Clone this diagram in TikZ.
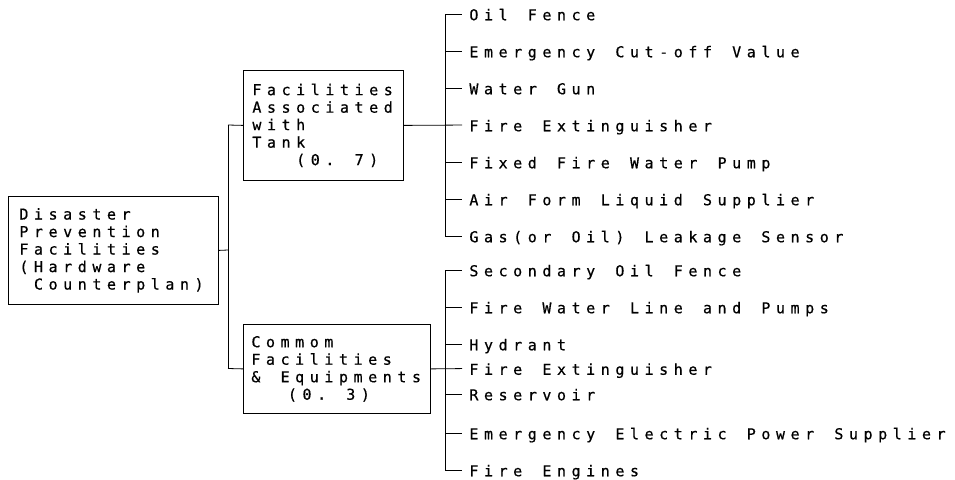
\documentclass[tikz,border=0pt]{standalone}
\usepackage{fontspec}
\newfontfamily\twfont{DejaVu Sans Mono}[FakeBold=0.6]
\newcommand\twsize{\twfont\fontsize{15}{17.5}\selectfont}
\ExplSyntaxOn
\NewDocumentCommand\tw{m}{\leavevmode\str_map_inline:nn {#1} {\hbox_to_wd:nn {14.6pt} {##1 \hfil}}}
\ExplSyntaxOff
\newcommand\mysp[1]{\leavevmode\hspace*{#1\dimexpr 14.6pt\relax}}
\begin{document}
\begin{tikzpicture}[x=1pt,y=-1pt,line width=0.8pt,
  txt/.style={font=\twsize},
  item/.style={txt,anchor=west,inner sep=0pt,text height=12.5pt,text depth=0pt},
  boxnode/.style={txt,draw,anchor=north west,inner ysep=0pt,align=left}
]
\useasboundingbox (0,0) rectangle (955,479);

% boxes
\node[boxnode,inner xsep=11pt,text width=188pt,minimum height=108pt] (L) at (8,196)
  {\tw{Disaster}\\\tw{Prevention}\\\tw{Facilities}\\\tw{(Hardware}\\\mysp{1}\tw{Counterplan)}};
\node[boxnode,inner xsep=9pt,text width=142pt,minimum height=110pt] (T) at (243,70)
  {\tw{Facilities}\\\tw{Associated}\\\tw{with}\\\tw{Tank}\\\mysp{3}\tw{(0. 7)}};
\node[boxnode,inner xsep=8pt,text width=171pt,minimum height=89pt] (B) at (243,324)
  {\tw{Commom}\\\tw{Facilities}\\\tw{& Equipments}\\\mysp{2.5}\tw{(0. 3)}};

% junctions
\coordinate (jl) at (228,250);
\coordinate (jt) at (228,125);
\coordinate (jb) at (228,368.5);

% items top
\node[item] (a1) at (469,14)  {\tw{Oil Fence}};
\node[item] (a2) at (469,51)  {\tw{Emergency Cut-off Value}};
\node[item] (a3) at (469,88)  {\tw{Water Gun}};
\node[item] (a4) at (469,125) {\tw{Fire Extinguisher}};
\node[item] (a5) at (469,162) {\tw{Fixed Fire Water Pump}};
\node[item] (a6) at (469,199) {\tw{Air Form Liquid Supplier}};
\node[item] (a7) at (469,236) {\tw{Gas(or Oil) Leakage Sensor}};

% items bottom
\node[item] (b1) at (469,270)   {\tw{Secondary Oil Fence}};
\node[item] (b2) at (469,307)   {\tw{Fire Water Line and Pumps}};
\node[item] (b3) at (469,344)   {\tw{Hydrant}};
\node[item] (b4) at (469,368.5) {\tw{Fire Extinguisher}};
\node[item] (b5) at (469,394)   {\tw{Reservoir}};
\node[item] (b6) at (469,433)   {\tw{Emergency Electric Power Supplier}};
\node[item] (b7) at (469,470)   {\tw{Fire Engines}};

% trunk connectors
\draw (L.east) -- (jl);
\draw (jt) -- (jb);
\draw (jt) -- (T.west);
\draw (jb) -- (B.west);

% top tree
\draw (a1.west -| 445,0) -- (a7.west -| 445,0);
\foreach \n in {1,2,3,5,6,7}{
  \draw[shorten >=7pt] (a\n.west -| 445,0) -- (a\n.west);
}
\draw[shorten >=7pt] (T.east) -- (a4.west);

% bottom tree
\draw (b1.west -| 445,0) -- (b7.west -| 445,0);
\foreach \n in {1,2,3,5,6,7}{
  \draw[shorten >=7pt] (b\n.west -| 445,0) -- (b\n.west);
}
\draw[shorten >=7pt] (B.east) -- (b4.west);
\end{tikzpicture}
\end{document}
